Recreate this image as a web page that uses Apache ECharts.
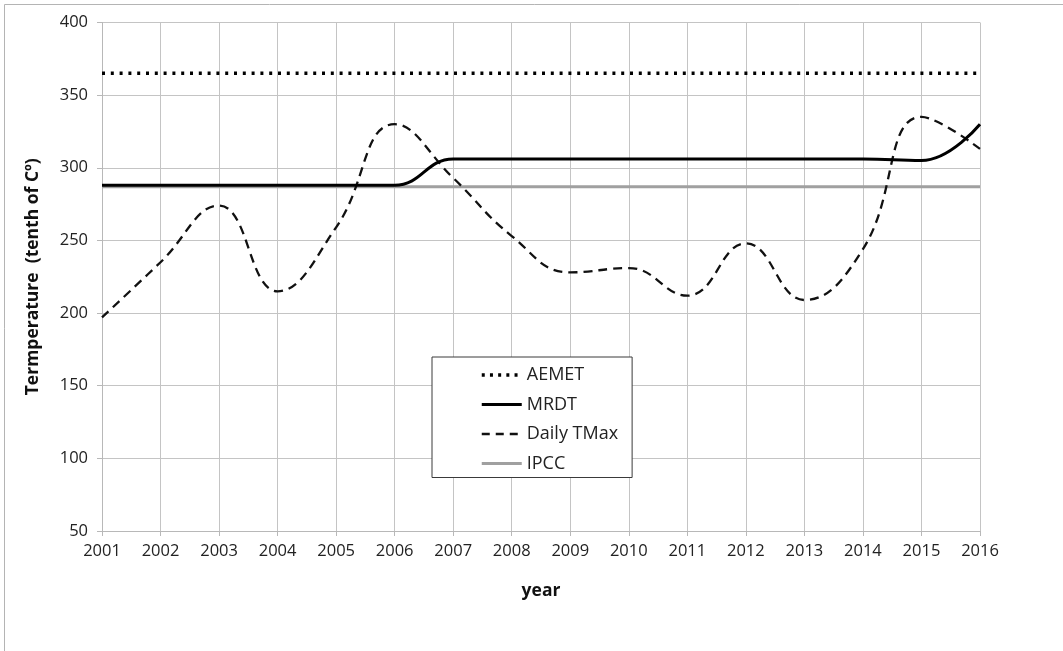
<!DOCTYPE html>
<html>
<head>
<meta charset="utf-8">
<script src="https://cdn.jsdelivr.net/npm/echarts@6/dist/echarts.min.js"></script>
<style>
  html, body { margin: 0; padding: 0; background: #fff; }
  #chart { width: 1063px; height: 651px; }
</style>
</head>
<body>
<div id="chart"></div>
<script>
// ---- data ----
const years = ['2001','2002','2003','2004','2005','2006','2007','2008','2009','2010','2011','2012','2013','2014','2015','2016'];
const aemet = [365,365,365,365,365,365,365,365,365,365,365,365,365,365,365,365];
const mrdt = [288,288,288,288,288,288,306,306,306,306,306,306,306,306,305,330];
const dailyTMax = [197,235,274,215,259,330,293,253,228,231,212,248,209,244,335,313];
const ipcc = [287,287,287,287,287,287,287,287,287,287,287,287,287,287,287,287];
const yTicks = { min: 50, max: 400, interval: 50 };
const xTitle = 'year';
const yTitle = 'Termperature  (tenth of Cº)';

const FONT = 'Open Sans';
const chart = echarts.init(document.getElementById('chart'), null, { renderer: 'canvas' });
const noSymbol = { opacity: 0, borderWidth: 0 };

chart.setOption({
  animation: false,
  backgroundColor: '#fff',
  graphic: [{
    type: 'rect',
    shape: { x: 4.5, y: 4.5, width: 1070, height: 660 },
    style: { fill: 'none', stroke: '#b4b4b4', lineWidth: 1 },
    silent: true, z: -10
  }],
  grid: { left: 102, right: 83, top: 22.5, bottom: 120, containLabel: false },
  xAxis: {
    type: 'category',
    data: years,
    boundaryGap: false,
    name: xTitle,
    nameLocation: 'middle',
    nameGap: 51,
    nameTextStyle: { fontFamily: FONT, fontSize: 17.5, fontWeight: 'bold', color: '#111' },
    axisLine: { show: true, lineStyle: { color: '#b8b8b8', width: 1 } },
    axisTick: { show: true, length: 5, inside: false, alignWithLabel: true, lineStyle: { color: '#b8b8b8' } },
    axisLabel: { fontFamily: FONT, fontSize: 16.5, color: '#222', margin: 12, interval: 0 },
    splitLine: { show: true, interval: 0, lineStyle: { color: '#c4c4c4', width: 1 } }
  },
  yAxis: {
    type: 'value',
    min: yTicks.min, max: yTicks.max, interval: yTicks.interval,
    name: yTitle,
    nameLocation: 'middle',
    nameGap: 60,
    nameRotate: 90,
    nameTextStyle: { fontFamily: FONT, fontSize: 17.5, fontWeight: 'bold', color: '#111' },
    axisLine: { show: true, lineStyle: { color: '#b8b8b8', width: 1 } },
    axisTick: { show: true, length: 5, inside: false, lineStyle: { color: '#b8b8b8' } },
    axisLabel: { fontFamily: FONT, fontSize: 16.5, color: '#222', margin: 14 },
    splitLine: { show: true, lineStyle: { color: '#c4c4c4', width: 1 } }
  },
  legend: {
    orient: 'vertical',
    left: 432, top: 357,
    padding: [9, 14, 5, 48],
    itemWidth: 40, itemHeight: 14, itemGap: 11.5,
    itemTextGap: 3,
    borderColor: '#3a3a3a', borderWidth: 1, backgroundColor: '#fff',
    textStyle: { fontFamily: FONT, fontSize: 18, color: '#222' },
    data: [
      { name: 'AEMET', itemStyle: noSymbol, lineStyle: { width: 3.5, type: [3, 5.2], color: '#000' } },
      { name: 'MRDT', itemStyle: noSymbol, lineStyle: { width: 3, color: '#000' } },
      { name: 'Daily TMax', itemStyle: noSymbol, lineStyle: { width: 2.3, type: [8, 6], color: '#111' } },
      { name: 'IPCC', itemStyle: noSymbol, lineStyle: { width: 3, color: '#a0a0a0' } }
    ]
  },
  series: [
    {
      name: 'IPCC', type: 'line', data: ipcc, symbol: 'none', z: 2,
      lineStyle: { color: '#a0a0a0', width: 3 }, itemStyle: { color: '#a0a0a0' }
    },
    {
      name: 'AEMET', type: 'line', data: aemet, symbol: 'none', z: 3,
      lineStyle: { color: '#000', width: 3.5, type: [3, 5.8] }, itemStyle: { color: '#000' }
    },
    {
      name: 'Daily TMax', type: 'line', data: dailyTMax, symbol: 'none', smooth: 0.45, z: 4,
      lineStyle: { color: '#111', width: 2.3, type: [9, 6] }, itemStyle: { color: '#111' }
    },
    {
      name: 'MRDT', type: 'line', data: mrdt, symbol: 'none', smooth: 0.45, z: 5,
      lineStyle: { color: '#000', width: 3 }, itemStyle: { color: '#000' }
    }
  ]
});
</script>
</body>
</html>
